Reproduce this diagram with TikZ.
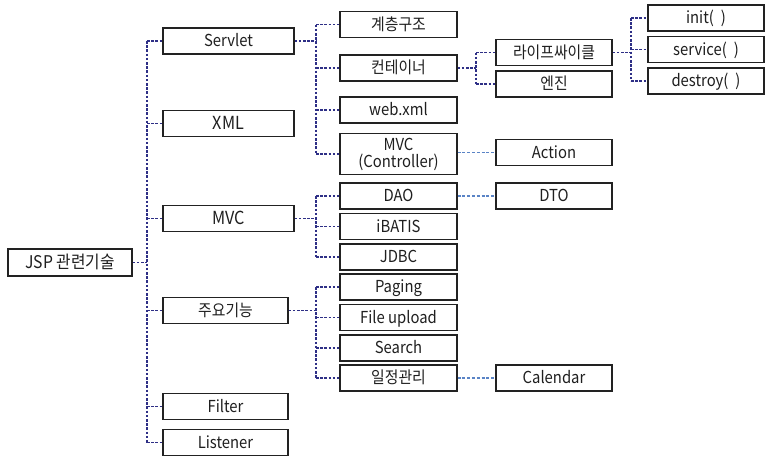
\documentclass[tikz,border=0pt]{standalone}
\usepackage{fontspec}
\setmainfont[FakeStretch=0.9]{Noto Sans CJK KR}
\usetikzlibrary{calc}
\definecolor{navyline}{HTML}{2E2F86}
\definecolor{paleline}{HTML}{5A84C6}
\definecolor{boxedge}{HTML}{222222}
\begin{document}
\begin{tikzpicture}[x=1pt,y=-1pt,
  box/.style={draw=boxedge,line width=1.3pt,fill=white,inner sep=0pt,
    minimum height=26pt,text height=1.1em,text depth=0pt,
    font=\fontsize{16.5}{18}\selectfont,text=black!88},
  big/.style={font=\fontsize{18}{20}\selectfont},
  lvA/.style={box,minimum width=131pt},
  lvB/.style={box,minimum width=125pt},
  lvC/.style={box,minimum width=117pt},
  lvD/.style={box,minimum width=116pt},
  treeline/.style={draw=navyline,line width=1.2pt,dash pattern=on 2.6pt off 1.6pt},
  linkline/.style={draw=paleline,line width=1.2pt,dash pattern=on 3pt off 1.8pt}]
\useasboundingbox (0,0) rectangle (769,464);

% root
\node[box,minimum width=124pt,minimum height=27pt,font=\fontsize{17.5}{19}\selectfont] (root) at (70,262.5) {JSP 관련기술};

% first level
\node[lvA] (servlet) at (228.5,41) {Servlet};
\node[lvA,big] (xml) at (228.5,123.5) {XML};
\node[lvA,big] (mvc) at (228.5,218.5) {MVC};
\node[lvB] (func) at (225.5,310.5) {주요기능};
\node[lvB] (filter) at (225.5,406.5) {Filter};
\node[lvB] (listener) at (225.5,442.5) {Listener};

% second level
\node[lvC] (layer) at (398.5,24.5) {계층구조};
\node[lvC] (container) at (398.5,68) {컨테이너};
\node[lvC] (webxml) at (398.5,110) {web.xml};
\node[lvC,minimum height=41pt,align=center,text height=,text depth=,
  font=\fontsize{16.5}{17}\selectfont] (mvcc) at (398.5,154) {MVC\\(Controller)};
\node[lvC] (dao) at (398.5,196) {DAO};
\node[lvC] (ibatis) at (398.5,226.5) {iBATIS};
\node[lvC] (jdbc) at (398.5,257) {JDBC};
\node[lvC] (paging) at (398.5,287) {Paging};
\node[lvC] (upload) at (398.5,317.5) {File upload};
\node[lvC] (search) at (398.5,348) {Search};
\node[lvC] (sched) at (398.5,378) {일정관리};

% third level
\node[lvD] (life) at (554,52.5) {라이프싸이클};
\node[lvD] (engine) at (554,84) {엔진};
\node[lvD] (action) at (554,152.5) {Action};
\node[lvD] (dto) at (554,196) {DTO};
\node[lvD] (calendar) at (554,378) {Calendar};

% fourth level
\node[lvD] (init) at (706,18) {init(\hspace{7pt})};
\node[lvD] (service) at (706,49.5) {service(\hspace{7pt})};
\node[lvD] (destroy) at (706,81) {destroy(\hspace{7pt})};

% x positions of the vertical buses
\coordinate (busA) at (147,0);
\coordinate (busB) at (316,0);
\coordinate (busC) at (476,0);
\coordinate (busD) at (631,0);

% parent stub, vertical bus, one stub per child
\newcommand\branch[4]{%
  \draw[treeline] (#1.east) -- (#1.east -| #2);
  \draw[treeline] (#2 |- #3.west) -- (#2 |- #4.west);
}
\newcommand\twig[2]{\draw[treeline] (#1 |- #2.west) -- (#2.west);}

\branch{root}{busA}{servlet}{listener}
\foreach \c in {servlet,xml,mvc,func,filter,listener} {\twig{busA}{\c}}

\branch{servlet}{busB}{layer}{mvcc}
\foreach \c in {layer,container,webxml,mvcc} {\twig{busB}{\c}}

\branch{mvc}{busB}{dao}{jdbc}
\foreach \c in {dao,ibatis,jdbc} {\twig{busB}{\c}}

\branch{func}{busB}{paging}{sched}
\foreach \c in {paging,upload,search,sched} {\twig{busB}{\c}}

\branch{container}{busC}{life}{engine}
\foreach \c in {life,engine} {\twig{busC}{\c}}

\branch{life}{busD}{init}{destroy}
\foreach \c in {init,service,destroy} {\twig{busD}{\c}}

\draw[linkline] (mvcc.east |- action.west) -- (action.west);
\draw[linkline] (dao.east) -- (dto.west);
\draw[linkline] (sched.east) -- (calendar.west);
\end{tikzpicture}
\end{document}
